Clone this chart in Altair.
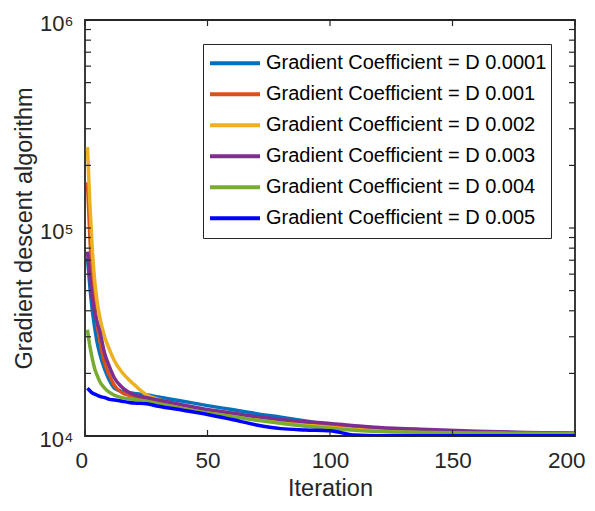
import altair as alt
import pandas as pd

iterations = [1, 2, 3, 4, 5, 6, 8, 10, 12, 15, 18, 20, 25, 30, 40, 50, 60, 70, 80, 90, 100, 110, 120, 140, 160, 180, 200]

series_names = [
    "Gradient Coefficient = D 0.0001",
    "Gradient Coefficient = D 0.001",
    "Gradient Coefficient = D 0.002",
    "Gradient Coefficient = D 0.003",
    "Gradient Coefficient = D 0.004",
    "Gradient Coefficient = D 0.005",
]
series_colors = ["#0072BD", "#D95319", "#EDB120", "#7E2F8E", "#77AC30", "#0000FF"]

d_0001 = [72000, 52000, 40000, 33000, 28000, 25000, 21000, 18500, 17000, 16400, 16200, 16000, 15800, 15400, 14700, 14000, 13400, 12800, 12300, 11800, 11300, 11000, 10800, 10600, 10450, 10350, 10300]
d_001 = [166000, 90000, 56000, 42000, 34000, 29000, 22500, 19500, 17500, 16200, 15700, 15500, 15100, 14700, 13900, 13300, 12800, 12300, 11900, 11500, 11200, 10900, 10700, 10500, 10400, 10300, 10250]
d_002 = [245000, 130000, 78000, 55000, 44000, 37500, 30000, 26000, 23000, 20300, 18600, 17700, 15800, 15000, 14000, 13300, 12700, 12200, 11700, 11300, 11000, 10750, 10600, 10450, 10350, 10300, 10250]
d_003 = [77000, 58000, 46000, 39000, 35000, 32000, 25000, 21500, 19000, 17200, 16200, 15800, 15300, 14900, 14100, 13400, 12900, 12400, 12000, 11700, 11500, 11200, 11000, 10750, 10550, 10400, 10300]
d_004 = [32400, 27000, 23500, 21000, 19500, 18300, 17000, 16200, 15700, 15300, 15100, 15000, 14700, 14300, 13500, 12900, 12400, 11900, 11500, 11150, 10900, 10650, 10500, 10400, 10350, 10300, 10250]
d_005 = [17000, 16500, 16100, 15900, 15700, 15500, 15300, 15000, 14900, 14700, 14500, 14400, 14300, 13900, 13300, 12700, 12000, 11300, 10850, 10700, 10600, 10100, 10020, 10020, 10020, 10020, 10020]

series_values = [d_0001, d_001, d_002, d_003, d_004, d_005]

y_tick_values = [1e4, 2e4, 3e4, 4e4, 5e4, 6e4, 7e4, 8e4, 9e4,
                 1e5, 2e5, 3e5, 4e5, 5e5, 6e5, 7e5, 8e5, 9e5, 1e6]
x_tick_values = [0, 50, 100, 150, 200]

rows = []
for name, vals in zip(series_names, series_values):
    for it, v in zip(iterations, vals):
        rows.append({"Iteration": it, "value": v, "series": name})
df = pd.DataFrame(rows)
ytick_df = pd.DataFrame({"value": y_tick_values})
xtick_df = pd.DataFrame({"Iteration": x_tick_values})

W, H = 490, 416
FONT = "Liberation Sans"

x_scale = alt.Scale(domain=[0, 200], nice=False, zero=False)
y_scale = alt.Scale(type="log", domain=[1e4, 1e6], nice=False)
x_axis = alt.Axis(values=x_tick_values, title="Iteration", labelPadding=13, titlePadding=5,
                  labelFlush=True, labelFlushOffset=10, labelFontSize=22.5)
y_axis = alt.Axis(values=[1e4, 1e5, 1e6],
                  labelExpr="datum.value >= 1e6 ? '10⁶' : (datum.value >= 1e5 ? '10⁵' : '10⁴')",
                  title="Gradient descent algorithm", labelPadding=12, titlePadding=3,
                  labelFlush=False, labelFontSize=22, labelOffset=3)

lines = alt.Chart(df).mark_line(strokeWidth=3.5, interpolate="monotone", clip=True).encode(
    x=alt.X("Iteration:Q", scale=x_scale, axis=x_axis),
    y=alt.Y("value:Q", scale=y_scale, axis=y_axis),
    color=alt.Color("series:N",
                    scale=alt.Scale(domain=series_names, range=series_colors),
                    legend=alt.Legend(title=None, orient="none", legendX=118, legendY=24,
                                      symbolType="stroke", symbolSize=2500, symbolStrokeWidth=4,
                                      labelFontSize=20, labelFont=FONT, labelColor="#000000",
                                      clipHeight=30.5, rowPadding=0, padding=4,
                                      strokeColor="#262626", fillColor="#ffffff",
                                      labelLimit=400, symbolOffset=1, labelOffset=4)),
)

ytick_left = alt.Chart(ytick_df).mark_rule(color="#262626", strokeWidth=1.2).encode(
    y=alt.Y("value:Q", scale=y_scale, axis=y_axis), x=alt.value(0), x2=alt.value(6))
ytick_right = alt.Chart(ytick_df).mark_rule(color="#262626", strokeWidth=1.2).encode(
    y=alt.Y("value:Q", scale=y_scale, axis=y_axis), x=alt.value(W), x2=alt.value(W - 6))
xtick_bottom = alt.Chart(xtick_df).mark_rule(color="#262626", strokeWidth=1.2).encode(
    x=alt.X("Iteration:Q", scale=x_scale, axis=x_axis), y=alt.value(H), y2=alt.value(H - 6))
xtick_top = alt.Chart(xtick_df).mark_rule(color="#262626", strokeWidth=1.2).encode(
    x=alt.X("Iteration:Q", scale=x_scale, axis=x_axis), y=alt.value(0), y2=alt.value(6))

chart = alt.layer(lines, ytick_left, ytick_right, xtick_bottom, xtick_top).properties(
    width=W, height=H,
    autosize=alt.AutoSizeParams(type="none"),
    padding={"left": 77, "top": 12, "right": 12, "bottom": 67},
).configure_view(
    stroke="#262626", strokeWidth=1.8
).configure_axis(
    domain=False, ticks=False, grid=False,
    labelFont=FONT, titleFont=FONT, titleFontSize=23.5,
    labelColor="#262626", titleColor="#262626", titleFontWeight="normal",
)

chart.save("out.html", embed_options={"renderer": "svg", "actions": False})
